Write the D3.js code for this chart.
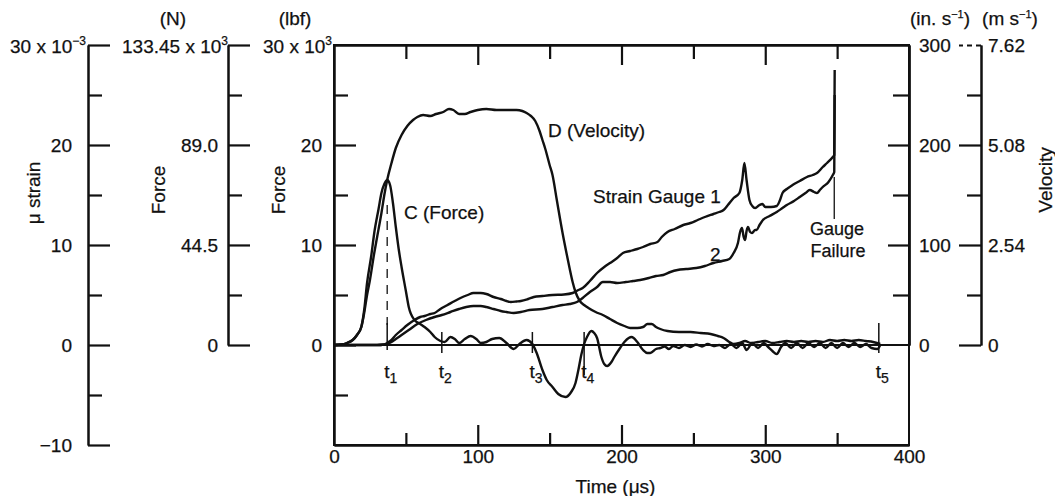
<!DOCTYPE html>
<html><head><meta charset="utf-8">
<script src="https://cdn.jsdelivr.net/npm/d3@7"></script>
<style>
body{margin:0;background:#fff;}
svg text{font-family:"Liberation Sans",Arial,Helvetica,sans-serif;fill:#111;stroke:#111;stroke-width:0.25px;}
</style></head><body>
<svg id="c" width="1055" height="496"></svg>
<script>
// ---------- data ----------
const timeMajor = [0, 100, 200, 300, 400];
const timeMinor = [50, 150, 250, 350];
const strainMajor = [20, 10, 0, -10];
const strainMinor = [25, 15, 5, -5];
const forceNMajor = [0, 44.5, 89.0];
const forceNMinor = [22.25, 66.75, 111.2];
const forceLbfMajor = [20, 10, 0];
const forceLbfMinor = [25, 15, 5, -5];
const velInMajor = [300, 200, 100, 0];
const velInMinor = [250, 150, 50];
const velMMajor = [7.62, 5.08, 2.54, 0];
const velMMinor = [6.35, 3.81, 1.27];

// C (Force), 10^3 lbf vs time (µs)
const forceC = [[0,0],[5,0.05],[9,0.2],[13,0.5],[16,1.0],[19,1.8],[21,3.5],[23,6.2],[26,9],[28,11.2],[31,13.6],[33,15.2],[35,16.1],[37,16.5],[39,16.0],[41,14.2],[43,11.8],[45,9.6],[47,7.8],[50,5.4],[52,3.8],[56,2.5],[60,2.1],[63,1.8],[67,1.3],[70,0.8],[74,0.4],[77,0.3],[81,0.8],[84,0.6],[87,0.2],[91,0.6],[95,0.9],[99,0.6],[102,0.2],[106,0.3],[110,0.6],[115,0.7],[120,0.2],[125,-0.4],[129,0.1],[134,0.5],[138,0.1],[141,-0.8],[145,-2.5],[148,-3.5],[152,-4.2],[156,-4.9],[161,-5.2],[165,-4.7],[168,-3.8],[170,-2.5],[172,-1.0],[174,0.1],[176,0.8],[179,1.4],[181,1.2],[183,0.7],[186,-1.2],[188,-1.9],[190,-2.1],[193,-1.7],[195,-1.2],[199,-0.3],[202,0.3],[205,0.7],[207,0.8],[211,0.3],[215,-0.5],[218,-0.8],[220,-0.8],[224,-0.4],[227,-0.3],[230,-0.15],[233,-0.4],[236,-0.1],[240,-0.3],[244,0],[248,-0.2],[252,0.05],[256,-0.15],[260,0.1],[264,-0.1],[268,0],[272,-0.3],[276,0.1],[280,-0.3],[284,0.2],[287,-0.5],[291,0.2],[295,-0.3],[299,0.2],[302,-0.2],[305,-0.6],[308,-0.9],[311,-0.2],[314,0.2],[318,-0.3],[322,0.2],[326,-0.3],[330,0.2],[334,-0.2],[338,0.2],[342,-0.3],[346,0.2],[350,-0.3],[354,0.2],[358,-0.2],[362,0.2],[366,-0.2],[370,0.1],[374,-0.3],[378,-0.4],[380,0]];

// D (Velocity), in/s vs time (µs)
const velocityD = [[0,0],[5,0.5],[9,2],[13,5],[16,10],[19,18],[21,32],[23,50],[25,65],[28,92],[30,108],[33,132],[35,150],[37,165],[40,182],[43,197],[47,210],[51,219],[55,225],[58,228],[62,230],[67,229],[71,231],[76,233],[80,236],[83,235],[87,231],[91,231],[95,233],[100,235],[106,236],[113,235],[120,235],[127,235],[131,234],[134,232],[137,229],[140,224],[143,214],[145,205],[147,196],[150,180],[152,170],[155,145],[159,112],[162,90],[164,76],[166,63],[168,53],[171,44],[174,40],[177,37],[182,33],[187,30],[192,26],[197,22],[202,19],[206,17],[211,17],[215,18],[218,21],[221,21],[224,18],[227,16],[232,14],[240,13],[248,13],[255,12],[262,11],[267,9],[271,7],[275,3],[278,1],[282,2],[286,4],[290,2],[295,3],[300,4],[305,2],[310,3],[315,4],[320,3],[325,4],[330,3],[335,4],[340,3],[345,5],[350,4],[355,5],[360,4],[365,5],[370,4],[375,3],[380,1]];

// Strain gauge 1, 10^-3 µ strain
const gauge1 = [[0,0],[30,0],[35,0.05],[37,0.2],[40,0.5],[43,1.0],[47,1.5],[51,2.0],[56,2.5],[60,2.8],[63,2.9],[67,3.1],[70,3.2],[74,3.6],[79,4.0],[84,4.4],[88,4.7],[93,5.0],[97,5.2],[102,5.2],[106,5.1],[111,4.8],[116,4.6],[120,4.4],[123,4.3],[127,4.35],[130,4.4],[135,4.6],[139,4.8],[145,4.9],[152,5.0],[160,5.05],[166,5.2],[170,5.5],[173,5.7],[178,6.4],[183,7.2],[188,7.8],[192,8.2],[197,8.7],[201,9.2],[206,9.4],[211,9.6],[215,9.8],[220,10.1],[225,10.3],[228,10.8],[232,11.3],[237,11.6],[243,12.0],[248,12.2],[253,12.5],[258,12.8],[264,13.1],[268,13.3],[271,13.5],[274,14.0],[278,14.7],[282,15.2],[284,16.5],[285.5,18.2],[287,16.5],[289,14.5],[291,13.9],[293,13.7],[296,14.0],[298,14.1],[300,13.8],[304,13.8],[308,13.9],[310,14.4],[312,15.2],[315,15.6],[319,16.0],[324,16.4],[329,16.8],[333,17.0],[336,17.2],[340,17.8],[343,18.2],[347,18.8],[348,19.0],[348.3,27.5]];

// Strain gauge 2, 10^-3 µ strain
const gauge2 = [[0,0],[30,0],[35,0.05],[37,0.1],[40,0.3],[43,0.6],[47,1.0],[52,1.5],[58,2.1],[64,2.5],[70,2.8],[75,3.0],[81,3.3],[87,3.6],[92,3.8],[97,3.9],[102,3.9],[106,3.8],[111,3.6],[116,3.4],[120,3.3],[125,3.2],[130,3.3],[136,3.5],[145,3.6],[152,3.8],[159,4.0],[164,4.1],[169,4.3],[173,4.7],[178,5.3],[183,5.8],[187,6.3],[192,6.3],[197,6.2],[203,6.3],[208,6.4],[213,6.5],[219,6.7],[224,6.9],[229,7.0],[234,7.3],[239,7.5],[245,7.6],[252,7.7],[258,7.9],[264,8.2],[270,8.4],[275,8.6],[278,9.2],[281,10.2],[282.5,11.3],[283.8,11.7],[285,10.8],[286,10.5],[287,11.4],[288,11.8],[289.5,11.3],[290.8,11.2],[293,11.5],[294,11.5],[296,12.0],[298.4,12.5],[303,12.9],[308,13.3],[312,13.7],[315,14.0],[320,14.4],[324,14.8],[328,15.2],[331,15.5],[334,15.3],[336,15.2],[338,15.5],[340,15.8],[344,16.3],[347,17.0],[348,17.3],[348.3,25]];

// time markers t1..t5
const markerNames = ["1","2","3","4","5"];
const markerTimes = [37, 75, 138, 174, 379];
const markerTop = [2.2, 1.3, 1.3, 1.3, 2.2];
const markerBottom = [-0.5, -0.8, -0.8, -3.0, -0.8];

// ---------- scales ----------
const svg = d3.select("#c");
const x = d3.scaleLinear().domain([0, 400]).range([334, 909]);
const y = d3.scaleLinear().domain([-10, 30]).range([445, 45]);          // lbf x10^3 and µ strain x10^-3
const yN = d3.scaleLinear().domain([0, 133.45]).range([345, 45]);       // N x10^3
const yVin = d3.scaleLinear().domain([0, 300]).range([345, 45]);        // in/s
const yVm = d3.scaleLinear().domain([0, 7.62]).range([345, 45]);        // m/s

const FS = 19;
function styleAxis(g) {
  g.attr("font-size", FS).attr("font-family", '"Liberation Sans",Arial,sans-serif');
  g.selectAll("path.domain").attr("stroke", "#111").attr("stroke-width", 2);
  g.selectAll(".tick line").attr("stroke", "#111").attr("stroke-width", 2.2);
  g.selectAll(".tick text").attr("fill", "#111");
}
function fmtNum(d) { return d < 0 ? "\u2212" + Math.abs(d) : String(d); }

// left-labelled, right-ticked axis
function leftAxis(xpos, scale, major, minor, fmt, pad) {
  const g = svg.append("g").attr("transform", `translate(${xpos},0)`);
  g.append("g").call(d3.axisLeft(scale).tickValues(minor).tickSizeInner(-14).tickSizeOuter(0).tickFormat("")).call(styleAxis);
  g.append("g").call(d3.axisLeft(scale).tickValues(major).tickSizeInner(-22).tickSizeOuter(0).tickPadding(pad).tickFormat(fmt)).call(styleAxis);
  return g;
}

// µ strain axis
leftAxis(88, y, [30].concat(strainMajor), strainMinor, d => d === 30 ? "" : fmtNum(d), 16);
// Force (N) axis
leftAxis(228, yN, [133.45].concat(forceNMajor), forceNMinor, d => d === 133.45 ? "" : (d === 0 ? "0" : d.toFixed(1)), 10);
// Force (lbf) axis — the plot frame's left edge
leftAxis(334, y, forceLbfMajor, forceLbfMinor, d => fmtNum(d), 12);

// top scientific labels
function sciLabel(xp, yp, base, exp) {
  const t = svg.append("text").attr("x", xp).attr("y", yp).attr("text-anchor", "end").attr("font-size", FS);
  t.append("tspan").text(base);
  t.append("tspan").attr("dy", -8).attr("font-size", 12).text(exp);
}
sciLabel(86, y(30) + 8, "30 x 10", "\u22123");
sciLabel(228, yN(133.45) + 8, "133.45 x 10", "3");
sciLabel(332, y(30) + 8, "30 x 10", "3");

// frame
svg.append("rect").attr("x", x(0)).attr("y", y(30)).attr("width", x(400) - x(0)).attr("height", y(-10) - y(30))
  .attr("fill", "none").attr("stroke", "#111").attr("stroke-width", 2);

// top ticks (down)
const gTop = svg.append("g").attr("transform", `translate(0,${y(30)})`);
gTop.append("g").call(d3.axisBottom(x).tickValues(timeMajor.slice(1, -1)).tickSizeInner(20).tickSizeOuter(0).tickFormat("")).call(styleAxis);
gTop.append("g").call(d3.axisBottom(x).tickValues(timeMinor).tickSizeInner(14).tickSizeOuter(0).tickFormat("")).call(styleAxis);
// bottom axis (ticks up, labels below)
const gBot = svg.append("g").attr("transform", `translate(0,${y(-10)})`);
gBot.append("g").call(d3.axisBottom(x).tickValues(timeMinor).tickSizeInner(-12).tickSizeOuter(0).tickFormat("")).call(styleAxis);
gBot.append("g").call(d3.axisBottom(x).tickValues(timeMajor).tickSizeInner(-20).tickSizeOuter(0).tickPadding(5).tickFormat(d => String(d))).call(styleAxis);
gBot.selectAll(".tick").filter(d => d === 0 || d === 400).select("line").remove();

// right axis (in/s) on frame
const gR = svg.append("g").attr("transform", `translate(${x(400)},0)`);
gR.append("g").call(d3.axisRight(yVin).tickValues(velInMinor).tickSizeInner(-16).tickSizeOuter(0).tickFormat("")).call(styleAxis);
gR.append("g").call(d3.axisRight(yVin).tickValues(velInMajor.slice(1, -1)).tickSizeInner(-21).tickSizeOuter(0).tickPadding(10).tickFormat(d => String(d))).call(styleAxis);
gR.append("g").call(d3.axisRight(yVin).tickValues([velInMajor[0], velInMajor[velInMajor.length - 1]]).tickSizeInner(0).tickSizeOuter(0).tickPadding(10).tickFormat(d => String(d))).call(styleAxis);

// m/s axis
const gM = svg.append("g").attr("transform", "translate(981,0)");
gM.append("g").call(d3.axisRight(yVm).tickValues(velMMinor).tickSizeInner(-14).tickSizeOuter(0).tickFormat("")).call(styleAxis);
gM.append("g").call(d3.axisRight(yVm).tickValues(velMMajor).tickSizeInner(-22).tickSizeOuter(0).tickPadding(7).tickFormat(d => d === 0 ? "0" : d.toFixed(2))).call(styleAxis);
gM.selectAll(".tick").filter(d => d === 7.62).select("line").attr("stroke-dasharray", "5,4");

// axis titles
function vTitle(xp, yp, txt) {
  svg.append("text").attr("transform", `translate(${xp},${yp}) rotate(-90)`).attr("text-anchor", "middle")
    .attr("dominant-baseline", "central").attr("font-size", FS).text(txt);
}
vTitle(33, 193, "\u03bc strain");
vTitle(158, 190, "Force");
vTitle(278, 190, "Force");
vTitle(1045, 180, "Velocity");

function hText(xp, yp, txt, anchor, fs) {
  return svg.append("text").attr("x", xp).attr("y", yp).attr("text-anchor", anchor || "middle").attr("font-size", fs || FS).text(txt);
}
hText(173, 25, "(N)");
hText(295, 25, "(lbf)");
function unitLabel(xp, base) {
  const t = svg.append("text").attr("x", xp).attr("y", 25).attr("text-anchor", "middle").attr("font-size", FS);
  t.append("tspan").text(base);
  t.append("tspan").attr("dy", -7).attr("font-size", 11).text("\u22121");
  t.append("tspan").attr("dy", 7).text(")");
}
unitLabel(940, "(in. s");
unitLabel(1010, "(m s");
hText((x(0) + x(400)) / 2 - 6, 493, "Time (\u03bcs)");

// zero line
svg.append("line").attr("x1", x(0)).attr("x2", x(400)).attr("y1", y(0)).attr("y2", y(0))
  .attr("stroke", "#111").attr("stroke-width", 2);

// curves
const lineY = d3.line().x(d => x(d[0])).y(d => y(d[1])).curve(d3.curveMonotoneX);
const lineV = d3.line().x(d => x(d[0])).y(d => yVin(d[1])).curve(d3.curveMonotoneX);
function drawCurve(path) {
  svg.append("path").attr("d", path).attr("fill", "none").attr("stroke", "#111").attr("stroke-width", 2.4)
    .attr("stroke-linejoin", "round");
}
drawCurve(lineY(forceC));
drawCurve(lineV(velocityD));
drawCurve(lineY(gauge1));
drawCurve(lineY(gauge2));

// time markers
markerTimes.forEach((t, i) => {
  svg.append("line").attr("x1", x(t)).attr("x2", x(t)).attr("y1", y(markerTop[i])).attr("y2", y(markerBottom[i]))
    .attr("stroke", "#111").attr("stroke-width", 1.5);
  const tx = svg.append("text").attr("x", x(t) - 3).attr("y", 378).attr("font-size", FS);
  tx.append("tspan").text("t");
  tx.append("tspan").attr("dy", 5).attr("font-size", 14).text(markerNames[i]);
});
// dashed guide above t1
svg.append("line").attr("x1", x(markerTimes[0])).attr("x2", x(markerTimes[0])).attr("y1", y(14)).attr("y2", y(2))
  .attr("stroke", "#111").attr("stroke-width", 1.3).attr("stroke-dasharray", "9,7");

// gauge failure leader
svg.append("line").attr("x1", x(348)).attr("x2", x(348)).attr("y1", y(16.8)).attr("y2", y(12.6))
  .attr("stroke", "#111").attr("stroke-width", 1.3);

// curve labels
hText(404, 219, "C (Force)", "start");
hText(548, 137, "D (Velocity)", "start");
hText(593, 203, "Strain Gauge 1", "start");
hText(710, 261, "2", "start");
hText(837, 235, "Gauge", "middle", 18);
hText(838, 257, "Failure", "middle", 18);
</script>
</body></html>
